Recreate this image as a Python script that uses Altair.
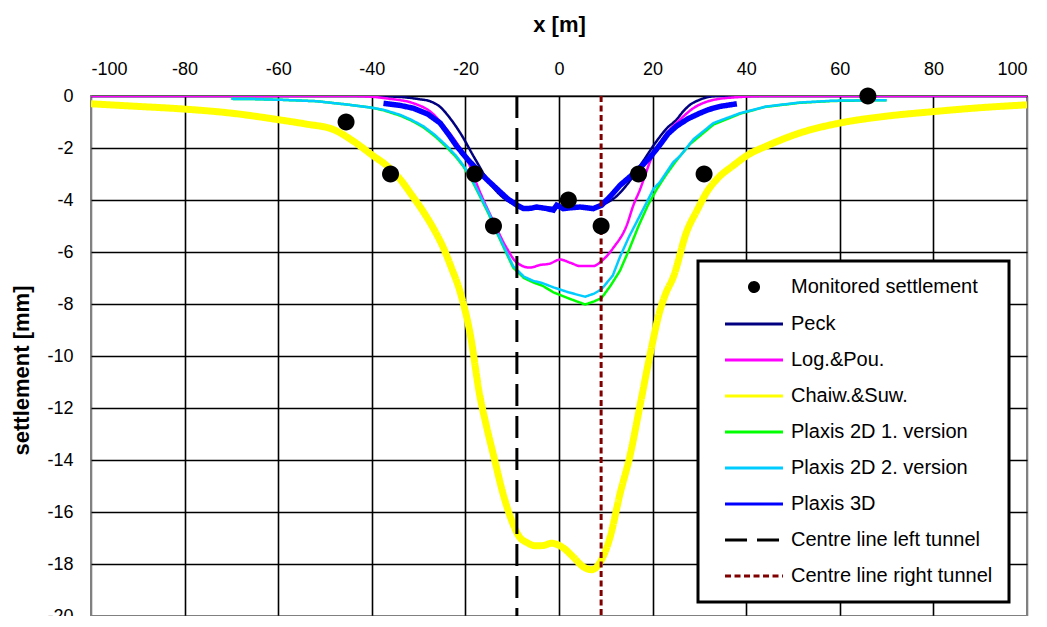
import altair as alt
import pandas as pd

# ---------------- data ----------------
SERIES = ["Monitored settlement", "Peck", "Log.&Pou.", "Chaiw.&Suw.",
          "Plaxis 2D 1. version", "Plaxis 2D 2. version", "Plaxis 3D",
          "Centre line left tunnel", "Centre line right tunnel"]
COLORS = ["#000000", "#000080", "#FF00FF", "#FFFF00", "#00FF00",
          "#00CCFF", "#0000FF", "#000000", "#800000"]

mon_x = [-45.5, -36, -18, -14, 2, 9, 17, 31, 66]
mon_y = [-1, -3, -3, -5, -4, -5, -3, -3, 0]

peck_x = [-100, -60, -40, -36, -33, -30, -27.6, -25.4, -23.3, -21, -18, -15, -12, -9, -6, -3, 0,
          3, 6, 9, 12, 15, 18, 21, 23, 25.1, 26.5, 28, 30, 31.6, 34, 40, 60, 100]
peck_y = [0, 0, 0, -0.02, -0.05, -0.12, -0.2, -0.42, -0.85, -1.45, -2.4, -3.3, -3.9, -4.2, -4.3, -4.3, -4.3,
          -4.3, -4.3, -4.2, -3.9, -3.3, -2.5, -1.7, -1.25, -0.91, -0.6, -0.34, -0.15, -0.05, 0, 0, 0, 0]

log_x = [-100, -60, -45, -40, -36.6, -31.1, -27.5, -24, -21.5, -19.7, -16.9, -14, -11.2, -9, -6.2, -4.1,
         -2, 0.2, 2.5, 4.5, 7.3, 9.1, 11.6, 14.5, 15.9, 17.3, 18.5, 19.5, 21.6, 23.7, 25.1, 28.7,
         33, 38.6, 45, 60, 100]
log_y = [0, 0, 0, -0.03, -0.1, -0.28, -0.6, -1.29, -1.9, -2.43, -3.69, -4.83, -5.84, -6.41, -6.6, -6.5,
         -6.45, -6.29, -6.42, -6.54, -6.54, -6.35, -5.84, -4.96, -4.2, -3.6, -3.0, -2.5, -1.8, -1.29, -1.04, -0.47,
         -0.15, -0.04, 0, 0, 0]

chaiw_x = [-100, -90, -80.3, -70, -60, -54, -48.2, -44, -39.7, -37, -34, -31.5, -29, -26.8, -24.7, -23,
           -21.2, -19, -16.9, -15.5, -14, -11.9, -9.8, -8.5, -6.9, -5, -3.4, -1.6, 0.9, 3.1, 5.2, 7.0,
           8.8, 10.9, 13, 15.2, 17.3, 19.4, 21.5, 22.8, 24.4, 27.3, 29.5, 31.6, 34, 37.2, 40.5, 44.4,
           51.5, 60, 69.3, 80, 90, 100]
chaiw_y = [-0.3, -0.4, -0.5, -0.66, -0.91, -1.08, -1.29, -1.73, -2.3, -2.65, -3.19, -3.8, -4.45, -5.1, -5.84, -6.6,
           -7.49, -9.13, -11.54, -12.7, -13.81, -15.33, -16.47, -16.95, -17.17, -17.3, -17.29, -17.2, -17.38, -17.74, -18.11, -18.22,
           -17.93, -16.98, -15.33, -13.81, -11.92, -10.0, -8.3, -7.6, -6.98, -5.21, -4.4, -3.69, -3.15, -2.68, -2.25, -1.92,
           -1.42, -1.04, -0.79, -0.6, -0.45, -0.34]

p2d1_x = [-70, -65, -58.9, -51.8, -44.7, -40, -37.5, -34, -31.5, -29, -26.5, -24, -22, -20.4, -18.6, -16.9,
          -15, -13.3, -11.5, -9.8, -7.5, -5.5, -3.5, -1.2, 2, 5.6, 7.5, 9.1, 11, 13, 15, 17, 19, 21, 23,
          25, 28, 33, 38.7, 44, 51.5, 58.6, 70]
p2d1_y = [-0.11, -0.12, -0.15, -0.2, -0.34, -0.45, -0.55, -0.75, -0.95, -1.2, -1.55, -1.97, -2.35, -2.72, -3.25, -3.86,
          -4.55, -5.25, -5.95, -6.6, -7.0, -7.17, -7.3, -7.55, -7.78, -8.02, -7.9, -7.77, -7.3, -6.73, -5.9, -5.0, -4.2, -3.55, -3.0,
          -2.5, -1.85, -1.1, -0.68, -0.42, -0.26, -0.19, -0.16]

p2d2_x = [-70, -65, -58.9, -51.8, -44.7, -40, -37.5, -34, -31.5, -29, -26.5, -24, -22, -20.4, -18.6, -16.9,
          -15, -13.3, -11.5, -9.8, -7.5, -5.5, -3.5, -1.2, 2, 5.6, 7.5, 9.1, 11.5, 13, 15, 17, 19, 20.2,
          21.6, 24.4, 25.9, 28.7, 33, 38.7, 44.4, 51.5, 58.6, 70]
p2d2_y = [-0.11, -0.12, -0.15, -0.2, -0.34, -0.45, -0.53, -0.72, -0.92, -1.16, -1.5, -1.92, -2.3, -2.68, -3.2, -3.82,
          -4.5, -5.21, -5.9, -6.54, -6.95, -7.11, -7.2, -7.36, -7.55, -7.72, -7.6, -7.43, -6.9, -6.2, -5.4, -4.7, -4.0, -3.57,
          -3.3, -2.55, -2.3, -1.67, -1.04, -0.66, -0.4, -0.25, -0.18, -0.16]

p3d_x = [-37.5, -34, -31.1, -28, -25.4, -23.5, -21.9, -19.7, -17.6, -15.5, -13.3, -11, -9, -7.6, -6, -4.8,
         -2.6, -1.2, -0.5, 0.9, 2.5, 4.5, 6, 7.3, 9.1, 11, 13, 15.2, 17.3, 19.5, 21.6, 23.3, 25.1, 27.5,
         30.1, 32, 34.4, 38]
p3d_y = [-0.28, -0.36, -0.47, -0.7, -1.04, -1.5, -1.92, -2.4, -2.81, -3.2, -3.57, -3.95, -4.2, -4.33, -4.32, -4.27,
         -4.33, -4.39, -4.2, -4.33, -4.3, -4.27, -4.3, -4.33, -4.2, -3.85, -3.44, -3.1, -2.76, -2.35, -1.87, -1.45, -1.16, -0.88,
         -0.66, -0.52, -0.4, -0.3]

tunnel_x = [-9, 9]

# ---------------- styling helpers ----------------
LINE_PATH = "M-4.83,0H4.83"
DOT_PATH = "M-0.75,0A0.75,0.75,0,1,1,0.75,0A0.75,0.75,0,1,1,-0.75,0Z"
SHAPES = [DOT_PATH] + [LINE_PATH] * 8
DASHES = [[1, 0]] * 7 + [[22, 10], [6, 3.5]]

FONT = "Liberation Sans"

legend = alt.Legend(
    title=None, orient="none", legendX=607, legendY=165,
    padding=16, rowPadding=16, labelFontSize=20, labelFont=FONT, labelColor="black",
    labelLimit=400, symbolSize=144, symbolStrokeWidth=3, symbolOffset=30, labelOffset=27,
    strokeColor="black", fillColor="white",
)

color = alt.Color("series:N", scale=alt.Scale(domain=SERIES, range=COLORS), legend=legend)
dash = alt.StrokeDash("series:N", scale=alt.Scale(domain=SERIES, range=DASHES), legend=legend)
shape = alt.Shape("series:N", scale=alt.Scale(domain=SERIES, range=SHAPES), legend=legend)

x_axis = alt.Axis(
    orient="top", values=list(range(-100, 101, 20)), title="x [m]",
    labelExpr="'' + datum.value",
    titleFontSize=22, titleFontWeight="bold", titleFont=FONT, titlePadding=24,
    labelFontSize=18, labelFont=FONT, labelPadding=18, labelColor="black",
    ticks=False, domain=False, grid=True, gridWidth=1.6,
    gridColor={"condition": {"test": "abs(datum.value) == 100", "value": "#808080"}, "value": "#000000"},
)
y_axis = alt.Axis(
    values=list(range(-20, 1, 2)), title="settlement [mm]",
    labelExpr="'' + datum.value",
    titleFontSize=22, titleFontWeight="bold", titleFont=FONT, titlePadding=13, titleY=274,
    labelFontSize=18, labelFont=FONT, labelPadding=18, labelColor="black",
    ticks=False, domain=False, grid=True, gridWidth=1.6,
    gridColor={"condition": {"test": "datum.value == -20", "value": "#808080"}, "value": "#000000"},
)

X = alt.X("x:Q", scale=alt.Scale(domain=[-100, 100], nice=False, zero=False), axis=x_axis)
Y = alt.Y("y:Q", scale=alt.Scale(domain=[-20, 0], nice=False, zero=False), axis=y_axis)


def frame(name, xs, ys):
    return pd.DataFrame({"x": xs, "y": ys, "series": name, "i": range(len(xs))})


def line_layer(name, xs, ys, width, interp="monotone"):
    return alt.Chart(frame(name, xs, ys)).mark_line(
        strokeWidth=width, interpolate=interp, clip=True
    ).encode(x=X, y=Y, color=color, strokeDash=dash, order="i:Q")


layers = [
    line_layer("Peck", peck_x, peck_y, 2.5),
    line_layer("Log.&Pou.", log_x, log_y, 2.5),
    line_layer("Chaiw.&Suw.", chaiw_x, chaiw_y, 7),
    line_layer("Plaxis 2D 1. version", p2d1_x, p2d1_y, 2.5, "linear"),
    line_layer("Plaxis 2D 2. version", p2d2_x, p2d2_y, 2.5, "linear"),
    line_layer("Plaxis 3D", p3d_x, p3d_y, 5.5, "linear"),
]

tunnels = pd.DataFrame({"x": tunnel_x, "series": SERIES[7:]})
layers.append(
    alt.Chart(tunnels).mark_rule(strokeWidth=3).encode(x=X, color=color, strokeDash=dash)
)

points = frame("Monitored settlement", mon_x, mon_y)
layers.append(
    alt.Chart(points).mark_point(filled=True, size=514, opacity=1, strokeWidth=0).encode(
        x=X, y=Y, color=color, shape=shape
    )
)

chart = alt.layer(*layers).properties(
    width=936, height=520,
    autosize=alt.AutoSizeParams(type="none"),
    padding={"left": 83, "top": 88, "right": 10, "bottom": 0},
    background="white",
).configure_view(
    stroke="#808080", strokeWidth=2
).configure_legend(
    strokeWidth=3
)

chart.save("out.html", embed_options={"renderer": "svg", "actions": False})
